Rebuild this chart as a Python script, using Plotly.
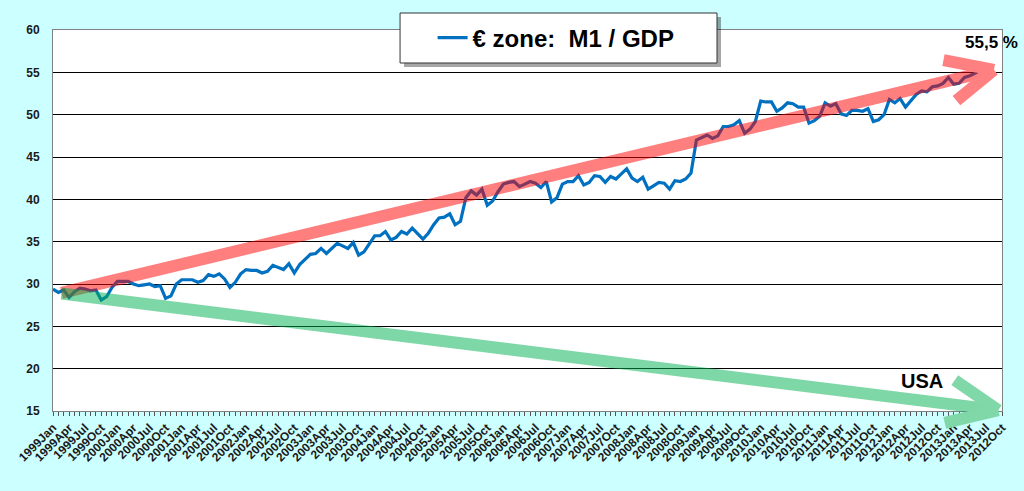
import plotly.graph_objects as go

# Euro zone M1 / GDP (%), monthly from 1999Jan
m1_gdp = [
    29.4, 29.0, 29.3, 28.4, 29.1, 29.5, 29.4, 29.2, 29.3, 28.1, 28.5, 29.6,
    30.3, 30.3, 30.3, 30.0, 29.8, 29.9, 30.0, 29.7, 29.8, 28.3, 28.6, 30.0,
    30.5, 30.5, 30.5, 30.2, 30.4, 31.1, 30.9, 31.2, 30.6, 29.6, 30.2, 31.2,
    31.7, 31.6, 31.6, 31.3, 31.5, 32.2, 31.9, 31.7, 32.4, 31.3, 32.3, 32.9,
    33.5, 33.6, 34.2, 33.6, 34.2, 34.8, 34.5, 34.2, 34.9, 33.4, 33.8, 34.7,
    35.7, 35.7, 36.2, 35.2, 35.5, 36.2, 35.9, 36.6, 36.0, 35.3, 36.0, 37.0,
    37.8, 37.9, 38.3, 37.0, 37.4, 40.2, 41.0, 40.5, 41.2, 39.3, 39.8, 40.9,
    41.8, 42.0, 42.1, 41.5, 41.8, 42.1, 41.9, 41.4, 42.1, 39.7, 40.2, 41.8,
    42.1, 42.1, 42.8, 41.7, 42.0, 42.8, 42.7, 42.0, 42.7, 42.4, 43.0, 43.6,
    42.5, 42.1, 42.6, 41.2, 41.6, 42.0, 41.9, 41.2, 42.2, 42.1, 42.4, 43.1,
    47.0, 47.3, 47.6, 47.2, 47.5, 48.6, 48.6, 48.8, 49.3, 47.8, 48.3, 49.2,
    51.6, 51.5, 51.5, 50.4, 50.8, 51.4, 51.3, 50.9, 50.9, 49.0, 49.3, 49.8,
    51.4, 51.0, 51.3, 50.1, 49.9, 50.5, 50.5, 50.4, 50.7, 49.2, 49.4, 50.0,
    51.8, 51.4, 51.9, 50.9, 51.6, 52.4, 52.8, 52.7, 53.3, 53.4, 53.7, 54.4,
    53.6, 53.7, 54.4, 54.6, 54.9, 55.3, 55.3, 55.6,
]

# quarterly tick labels (the last one really reads "2012Oct" on the original)
tick_labels = [
    "1999Jan", "1999Apr", "1999Jul", "1999Oct",
    "2000Jan", "2000Apr", "2000Jul", "2000Oct",
    "2001Jan", "2001Apr", "2001Jul", "2001Oct",
    "2002Jan", "2002Apr", "2002Jul", "2002Oct",
    "2003Jan", "2003Apr", "2003Jul", "2003Oct",
    "2004Jan", "2004Apr", "2004Jul", "2004Oct",
    "2005Jan", "2005Apr", "2005Jul", "2005Oct",
    "2006Jan", "2006Apr", "2006Jul", "2006Oct",
    "2007Jan", "2007Apr", "2007Jul", "2007Oct",
    "2008Jan", "2008Apr", "2008Jul", "2008Oct",
    "2009Jan", "2009Apr", "2009Jul", "2009Oct",
    "2010Jan", "2010Apr", "2010Jul", "2010Oct",
    "2011Jan", "2011Apr", "2011Jul", "2011Oct",
    "2012Jan", "2012Apr", "2012Jul", "2012Oct",
    "2013Jan", "2013Apr", "2013Jul", "2012Oct",
]
tick_positions = [3 * i for i in range(len(tick_labels))]

# trend arrows (start / end, in axis units)
trend_start = (1.3, 28.9)
eu_trend_end = (175.5, 55.3)
us_trend_end = (176.3, 15.1)

FONT = "Liberation Sans"
RED_T = "rgba(255,0,0,0.5)"
RED = "rgb(255,128,128)"
GREEN_T = "rgba(0,176,80,0.5)"
GREEN = "rgb(128,216,168)"

months = list(range(len(m1_gdp)))

fig = go.Figure()
fig.add_trace(go.Scatter(
    x=months, y=m1_gdp, mode="lines", name="€ zone:  M1 / GDP",
    line=dict(color="#0070c0", width=3.2),
))


def shaft(start, end, color):
    return dict(x=end[0], y=end[1], xref="x", yref="y",
                ax=start[0], ay=start[1], axref="x", ayref="y",
                text="", showarrow=True, arrowhead=0, arrowwidth=12,
                arrowcolor=color, standoff=0, startstandoff=0)


def wing(end, dx, dy, color):
    return dict(x=end[0], y=end[1], xref="x", yref="y", ax=dx, ay=dy,
                text="", showarrow=True, arrowhead=0, arrowwidth=12,
                arrowcolor=color, standoff=0, startstandoff=0)


annotations = [
    shaft(trend_start, eu_trend_end, RED_T),
    wing(eu_trend_end, -52, -10, RED),
    wing(eu_trend_end, -39, 32, RED),
    shaft(trend_start, us_trend_end, GREEN_T),
    wing(us_trend_end, -45, -31, GREEN),
    wing(us_trend_end, -55, 13, GREEN),
    dict(x=0.959, y=0.966, xref="paper", yref="paper", xanchor="left",
         yanchor="middle", text="55,5 %", showarrow=False,
         font=dict(family=FONT, size=17, color="black", weight="bold")),
    dict(x=0.916, y=0.08, xref="paper", yref="paper", xanchor="center",
         yanchor="middle", text="USA", showarrow=False,
         font=dict(family=FONT, size=20, color="black", weight="bold")),
]

# legend frame with a drop shadow
shapes = [
    dict(type="rect", xref="paper", yref="paper", x0=0.3699, x1=0.7039,
         y0=0.9029, y1=1.0341, fillcolor="rgba(0,0,0,0.35)", line_width=0,
         layer="above"),
    dict(type="rect", xref="paper", yref="paper", x0=0.3657, x1=0.6997,
         y0=0.9134, y1=1.0446, fillcolor="white",
         line=dict(color="#333333", width=1), layer="above"),
]

fig.update_layout(
    width=1024, height=491,
    margin=dict(l=53, r=22, t=30, b=80),
    paper_bgcolor="#ccffff", plot_bgcolor="white",
    showlegend=True,
    legend=dict(x=0.4, y=0.979, xanchor="left", yanchor="middle",
                bgcolor="rgba(0,0,0,0)", borderwidth=0,
                font=dict(family=FONT, size=24, color="black", weight="bold")),
    annotations=annotations,
    shapes=shapes,
)

fig.update_xaxes(
    range=[0, 177], tickmode="array", tickvals=tick_positions,
    ticktext=tick_labels, tickangle=-45,
    ticks="outside", ticklen=4, tickcolor="#555555",
    minor=dict(tickmode="linear", tick0=0, dtick=1, ticks="outside",
               ticklen=4, tickcolor="#555555", showgrid=False),
    showgrid=False, zeroline=False,
    showline=True, linecolor="#808080", linewidth=1, mirror=True,
    tickfont=dict(family=FONT, size=12, color="#1a1a1a", weight="bold"),
)
fig.update_yaxes(
    range=[15, 60], tick0=15, dtick=5, ticks="",
    showgrid=True, gridcolor="black", gridwidth=1, zeroline=False,
    showline=True, linecolor="#808080", linewidth=1, mirror=True,
    ticklabelstandoff=10,
    tickfont=dict(family=FONT, size=12, color="#1a1a1a", weight="bold"),
)

# page body margin would shift the whole chart by 8px
fig.write_html("out.html", config={"displayModeBar": False},
               post_script="document.body.style.margin = '0';")
